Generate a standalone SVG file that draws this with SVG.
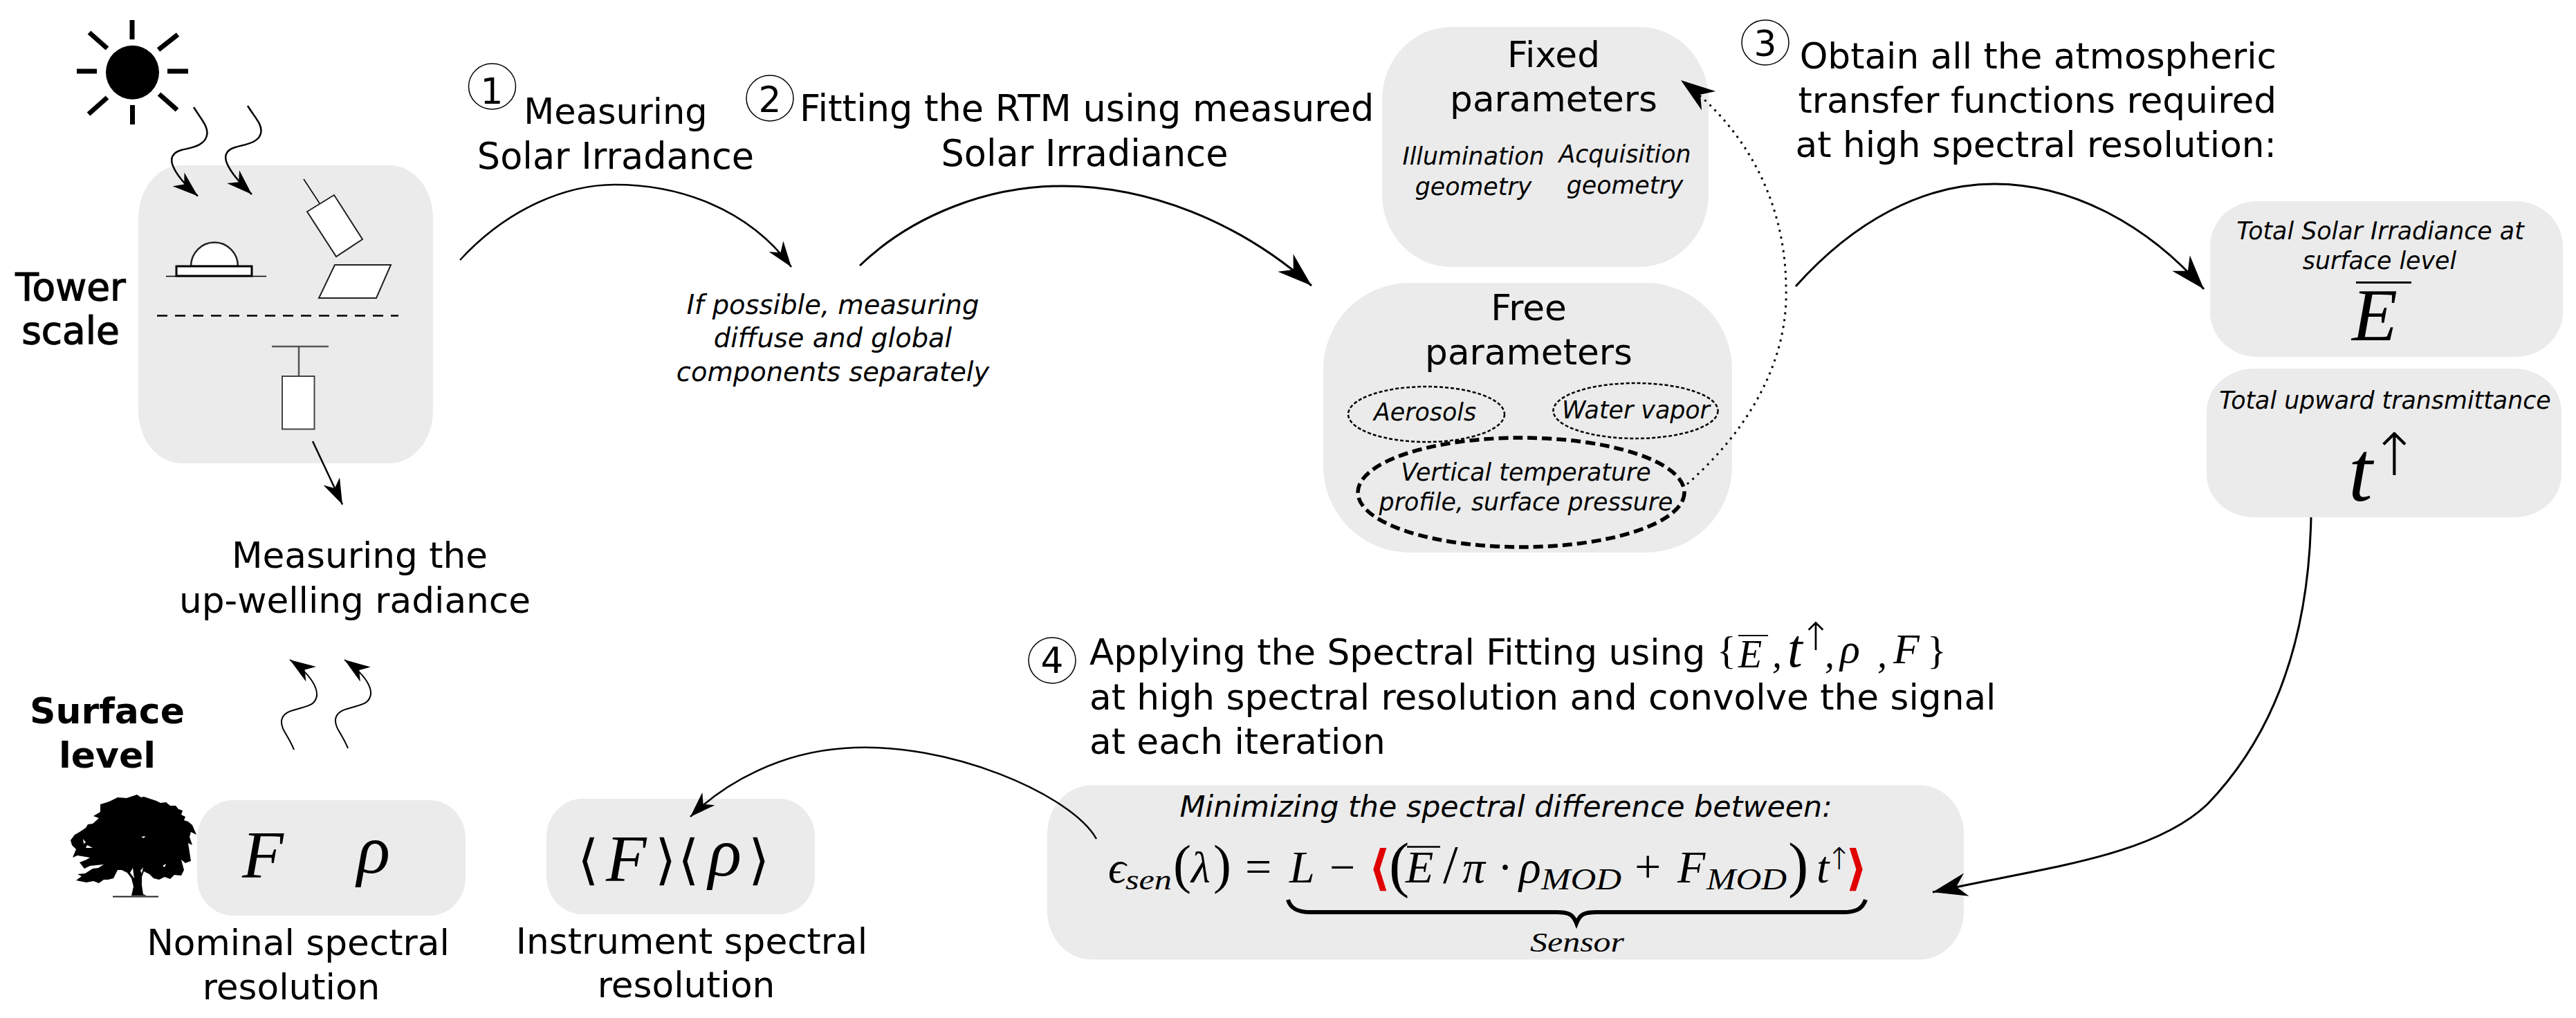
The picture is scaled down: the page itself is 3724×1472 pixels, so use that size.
<svg xmlns="http://www.w3.org/2000/svg" width="3724" height="1472" viewBox="0 0 3724 1472">
<defs>
<style>
text{font-family:"DejaVu Sans",Verdana,sans-serif;fill:#000}
.b{font-size:51.700px}
.b2{font-size:52.500px}
.m{text-anchor:middle}
.e{text-anchor:end}
.i{font-style:italic;font-size:34.800px}
.i40{font-style:italic;font-size:38.400px}
.s{font-weight:bold;font-size:52px}
.t{font-size:55px;stroke:#000;stroke-width:1.200}
.mt{font-family:"Liberation Serif","Times New Roman",serif;font-style:italic}
.mu{font-family:"Liberation Serif","Times New Roman",serif}
.ar{font-family:"DejaVu Sans",sans-serif;font-weight:200}
.box{fill:#ebebeb;stroke:none}
.ln{fill:none;stroke:#000;stroke-width:2.500}
.ln3{fill:none;stroke:#000;stroke-width:3}
.wh{fill:#fff;stroke:#222;stroke-width:2}
.num{fill:none;stroke:#000;stroke-width:1.500}
.ray{stroke:#000;stroke-width:7;fill:none}
</style>
<marker id="a" markerUnits="userSpaceOnUse" viewBox="-50 -20 54 40" refX="2" refY="0" markerWidth="54" markerHeight="40" orient="auto"><path d="M2,0L-48,-17L-33,0L-48,17Z"/></marker>
<marker id="as" markerUnits="userSpaceOnUse" viewBox="-38 -16 42 32" refX="2" refY="0" markerWidth="42" markerHeight="32" orient="auto"><path d="M2,0L-35,-13L-24,0L-35,13Z"/></marker>
</defs>
<rect width="3724" height="1472" fill="#fff"/>

<g id="sun">
<ellipse cx="191.500" cy="104.700" rx="38.500" ry="39"/>
<path class="ray" d="M191,29V57M111,103H140M242,103H272M191.500,152V180M129,47L155,70M257,50L229,72M128,165L155,141M256,159L230,136"/>
</g>

<g id="tower">
<rect class="box" x="200" y="239" width="426" height="431" rx="63" ry="76"/>
<path class="wh" d="M276,385A34,34.500 0 0 1 344,385Z" style="stroke-width:2.500"/>
<rect x="255" y="385" width="109" height="14" class="wh" style="stroke:#000;stroke-width:3"/>
<path class="ln" d="M240,399.500H385" style="stroke-width:1.500"/>
<path class="ln" d="M439,259L462,294" style="stroke-width:1.500"/>
<path class="wh" d="M444,306L483,282L524,346L486,371Z"/>
<path class="wh" d="M484,383H565L544,431H461Z"/>
<path d="M227,456.500H576" fill="none" stroke="#000" stroke-width="2.500" stroke-dasharray="15 11"/>
<path d="M393,501H475M432,501V544" fill="none" stroke="#555" stroke-width="2.500"/>
<rect class="wh" x="408" y="544" width="46.500" height="76.500" style="stroke:#444"/>
<text class="t m" x="102" y="434">Tower</text>
<text class="t m" x="102" y="497">scale</text>
</g>

<g id="surface">
<text class="s m" x="155" y="1046">Surface</text>
<text class="s m" x="155" y="1110">level</text>
<path id="tree" fill-rule="evenodd" d="M198,1149L204,1153L208,1152L214,1154L220,1156L226,1158L232,1161L240,1160L246,1165L254,1165L258,1170L264,1172L262,1178L268,1181L266,1186L272,1188L278,1193L284,1207L276,1203L274,1210L278,1222L272,1219L276,1245L268,1248L262,1243L266,1258L262,1266L252,1265L246,1271L238,1268L230,1272L222,1270L216,1264L208,1260L205,1268L205,1280L207,1293L212,1295L190,1295L193,1282L190,1270L184,1262L176,1258L170,1258L164,1270L156,1272L150,1272L143,1277L135,1274L125,1276L110,1273L118,1267L112,1264L123,1263L134,1256L142,1255L150,1250L130,1252L122,1256L115,1247L125,1243L130,1240L112,1237L105,1240L110,1228L104,1222L102,1215L108,1207L115,1203L124,1197L127,1192L134,1191L143,1183L135,1180L145,1174L145,1163L155,1160L160,1158L170,1153L183,1154ZM203,1259L207,1254L205,1263ZM235,1252L240,1249L238,1254ZM204,1210L210,1209L208,1212ZM120,1213L124,1218L121,1220ZM188,1262L192,1255L194,1270ZM126,1222L134,1226L124,1226Z"/>
<path d="M163,1296.500H229" stroke="#222" stroke-width="2" fill="none"/>
</g>

<g id="nominal">
<rect class="box" x="285" y="1157" width="388" height="167" rx="52" ry="55"/>
<text class="mt" x="350" y="1269" font-size="98">F</text>
<text class="mt" x="516" y="1262" font-size="100">ρ</text>
<text class="b m" x="431" y="1381">Nominal spectral</text>
<text class="b m" x="421" y="1445">resolution</text>
</g>

<g id="instrument">
<rect class="box" x="790" y="1155" width="388" height="167" rx="52" ry="55"/>
<text class="ar" x="835" y="1270" font-size="78">⟨</text>
<text class="mt" x="876" y="1274" font-size="96">F</text>
<text class="ar" x="947" y="1270" font-size="78">⟩</text>
<text class="ar" x="980" y="1270" font-size="78">⟨</text>
<text class="mt" x="1024" y="1266" font-size="100">ρ</text>
<text class="ar" x="1082" y="1270" font-size="78">⟩</text>
<text class="b m" x="1000" y="1379">Instrument spectral</text>
<text class="b m" x="992" y="1442">resolution</text>
</g>

<g id="step1">
<ellipse class="num" cx="711.500" cy="125" rx="34" ry="33"/>
<text class="b m" x="711" y="150">1</text>
<text class="m" style="font-size:51px" x="890" y="179">Measuring</text>
<text class="b2 m" x="890" y="244">Solar Irradance</text>
<text class="i40 m" x="1204" y="454">If possible, measuring</text>
<text class="i40 m" x="1204" y="502">diffuse and global</text>
<text class="i40 m" x="1204" y="551">components separately</text>
</g>

<g id="step2">
<ellipse class="num" cx="1113" cy="142" rx="34" ry="33"/>
<text class="b m" x="1113" y="162">2</text>
<text class="b2" x="1156" y="175">Fitting the RTM using measured</text>
<text class="b2 m" x="1568" y="240">Solar Irradiance</text>
</g>

<g id="fixed">
<rect class="box" x="1998" y="39" width="472" height="347" rx="100" ry="105"/>
<text class="b m" x="2246" y="97">Fixed</text>
<text class="b m" x="2246" y="161">parameters</text>
<text class="i m" x="2130" y="238">Illumination</text>
<text class="i m" x="2130" y="282">geometry</text>
<text class="i m" x="2349" y="235">Acquisition</text>
<text class="i m" x="2349" y="280">geometry</text>
</g>

<g id="free">
<rect class="box" x="1913" y="409" width="591" height="390" rx="125" ry="125"/>
<text class="b m" x="2210" y="463">Free</text>
<text class="b m" x="2210" y="527">parameters</text>
<ellipse cx="2062" cy="599" rx="113" ry="40" fill="none" stroke="#000" stroke-width="2.500" stroke-dasharray="5 3"/>
<ellipse cx="2364.500" cy="594" rx="119" ry="40" fill="none" stroke="#000" stroke-width="2.500" stroke-dasharray="5 3"/>
<ellipse cx="2199" cy="712" rx="236" ry="79" fill="none" stroke="#000" stroke-width="5.500" stroke-dasharray="14 7"/>
<text class="i m" x="2060" y="608">Aerosols</text>
<text class="i m" x="2365" y="605">Water vapor</text>
<text class="i m" x="2206" y="695">Vertical temperature</text>
<text class="i m" x="2206" y="738">profile, surface pressure</text>
</g>

<g id="step3">
<ellipse class="num" cx="2552" cy="61.500" rx="34" ry="32.500"/>
<text class="b m" x="2552" y="81">3</text>
<text class="b e" x="3291" y="99">Obtain all the atmospheric</text>
<text class="b e" x="3291" y="163">transfer functions required</text>
<text class="b e" x="3291" y="227">at high spectral resolution:</text>
</g>

<g id="irradiance">
<rect class="box" x="3195" y="291" width="510" height="225" rx="68" ry="65"/>
<text class="i m" x="3441" y="346">Total Solar Irradiance at</text>
<text class="i m" x="3440" y="389">surface level</text>
<path d="M3406,408.500H3486" stroke="#000" stroke-width="3" fill="none"/>
<text class="mt" x="3400" y="492" font-size="108">E</text>
</g>

<g id="transmittance">
<rect class="box" x="3190" y="533" width="513" height="215" rx="68" ry="62"/>
<text class="i m" x="3448" y="591">Total upward transmittance</text>
<text class="mt" x="3395" y="724" font-size="125">t</text>
<text class="ar m" x="3461" y="687" font-size="85">↑</text>
</g>

<g id="step4">
<ellipse class="num" cx="1521" cy="955" rx="34" ry="33"/>
<text class="b m" x="1521" y="973">4</text>
<text class="b" x="1575" y="961">Applying the Spectral Fitting using</text>
<text class="b" x="1575" y="1026">at high spectral resolution and convolve the signal</text>
<text class="b" x="1575" y="1090">at each iteration</text>
<g id="paramset">
<text class="mu" x="2482" y="960" font-size="58">{</text>
<text class="mt" x="2513" y="965" font-size="56">E</text>
<path d="M2513,919H2556" stroke="#000" stroke-width="2" fill="none"/>
<text class="mt" x="2562" y="965" font-size="56">,</text>
<text class="mt" x="2584" y="964" font-size="78">t</text>
<text class="ar m" x="2625" y="940" font-size="56">↑</text>
<text class="mt" x="2638" y="965" font-size="56">,</text>
<text class="mt" x="2660" y="958" font-size="60">ρ</text>
<text class="mt" x="2714" y="965" font-size="56">,</text>
<text class="mt" x="2737" y="959" font-size="62">F</text>
<text class="mu" x="2786" y="960" font-size="58">}</text>
</g>
</g>

<g id="objective">
<rect class="box" x="1514" y="1135.500" width="1325" height="252" rx="64" ry="70"/>
<text class="m" style="font-style:italic;font-size:42.800px" x="2177" y="1181">Minimizing the spectral difference between:</text>
<g id="formula">
<text class="mt" x="1602" y="1276" font-size="64">ϵ</text>
<text class="mt" x="1627" y="1286" font-size="42" textLength="67" lengthAdjust="spacingAndGlyphs">sen</text>
<text class="mu" x="1696" y="1276" font-size="78">(</text>
<text class="mt" x="1722" y="1276" font-size="64">λ</text>
<text class="mu" x="1754" y="1276" font-size="78">)</text>
<text class="mu" x="1800" y="1276" font-size="68">=</text>
<text class="mt" x="1864" y="1276" font-size="66">L</text>
<text class="mu" x="1922" y="1276" font-size="66">−</text>
<text class="ar" x="1978" y="1279" font-size="70" style="font-weight:bold;fill:#e00000">⟨</text>
<text class="mu" x="2008" y="1280" font-size="88">(</text>
<text class="mt" x="2032" y="1276" font-size="66">E</text>
<path d="M2034,1224.500H2082" stroke="#000" stroke-width="2.500" fill="none"/>
<text class="mu" x="2086" y="1276" font-size="78">/</text>
<text class="mt" x="2114" y="1276" font-size="66">π</text>
<text class="mu" x="2165" y="1276" font-size="66">·</text>
<text class="mt" x="2196" y="1276" font-size="66">ρ</text>
<text class="mt" x="2228" y="1286" font-size="44" textLength="116" lengthAdjust="spacingAndGlyphs">MOD</text>
<text class="mu" x="2363" y="1276" font-size="68">+</text>
<text class="mt" x="2425" y="1276" font-size="66">F</text>
<text class="mt" x="2467" y="1286" font-size="44" textLength="116" lengthAdjust="spacingAndGlyphs">MOD</text>
<text class="mu" x="2585" y="1280" font-size="88">)</text>
<text class="mt" x="2626" y="1276" font-size="66">t</text>
<text class="ar m" x="2659" y="1257" font-size="44">↑</text>
<text class="ar" x="2668" y="1279" font-size="70" style="font-weight:bold;fill:#e00000">⟩</text>
<path d="M1862,1301C1866,1316 1880,1319 1895,1319L2250,1319C2268,1319 2274,1322 2279,1335C2284,1322 2290,1319 2308,1319L2665,1319C2680,1319 2692,1316 2697,1301" fill="none" stroke="#000" stroke-width="6"/>
<text class="mt m" x="2280" y="1376" font-size="40" textLength="136" lengthAdjust="spacingAndGlyphs">Sensor</text>
</g>
</g>

<g id="measuring">
<text class="b m" x="520" y="821">Measuring the</text>
<text class="b m" x="513" y="886">up-welling radiance</text>
</g>

<g id="connectors">
<path class="ln" marker-end="url(#as)" d="M280,155C292,174 300,182 299.500,193C298,212 273,214 262,217C248,221 246,230 250,240C255,252 268,268 286,283.500"/>
<path class="ln" marker-end="url(#as)" d="M358,153C370,172 378,179 377.500,190C376,208 351,209 340,213C326,217 324,226 328,236C333,248 346,264 364,281"/>
<path class="ln" marker-end="url(#as)" d="M452,638L495,729.500"/>
<path class="ln" marker-end="url(#as)" d="M425,1084C416,1062 406,1055 407,1042C409,1028 426,1027 434,1024C448,1020 456,1018 458,1006C459,995 450,975 419,954" style="stroke-width:2"/>
<path class="ln" marker-end="url(#as)" d="M503,1082C494,1060 484,1053 485,1040C487,1026 504,1025 512,1022C526,1018 534,1016 536,1004C537,993 528,975 498,954" style="stroke-width:2"/>
<path class="ln" marker-end="url(#as)" d="M665,376C735,300 820,267 889,267C980,267 1080,300 1144,386"/>
<path class="ln3" marker-end="url(#a)" d="M1243,384C1320,310 1430,269 1535,269C1660,269 1790,320 1896,413"/>
<path class="ln3" marker-end="url(#a)" d="M2596,414C2680,320 2780,266 2883,266C2990,266 3100,320 3186,418"/>
<path d="M2439,700C2530,620 2585,520 2582,418C2582,300 2530,190 2430,116" fill="none" stroke="#000" stroke-width="3" stroke-dasharray="3 7" marker-end="url(#a)"/>
<path class="ln3" marker-end="url(#a)" d="M3341,748C3338,900 3300,1050 3191,1163C3110,1240 2950,1255 2794,1290"/>
<path class="ln" marker-end="url(#as)" d="M1585,1213C1550,1150 1370,1070 1220,1082C1130,1088 1050,1130 998,1181"/>
</g>
</svg>
